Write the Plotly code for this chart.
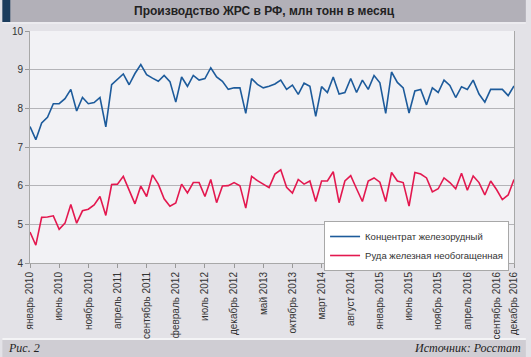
import plotly.graph_objects as go

months = ["январь", "февраль", "март", "апрель", "май", "июнь", "июль",
          "август", "сентябрь", "октябрь", "ноябрь", "декабрь"]
years = [2010, 2011, 2012, 2013, 2014, 2015, 2016]

concentrate = [
    7.53, 7.19, 7.62, 7.77, 8.12, 8.12, 8.25, 8.49, 7.93, 8.28, 8.12, 8.15,
    8.28, 7.52, 8.61, 8.74, 8.89, 8.61, 8.90, 9.13, 8.87, 8.78, 8.70, 8.85,
    8.69, 8.16, 8.81, 8.57, 8.85, 8.73, 8.77, 9.05, 8.81, 8.70, 8.49, 8.53,
    8.53, 7.87, 8.77, 8.62, 8.53, 8.57, 8.63, 8.73, 8.49, 8.60, 8.36, 8.65,
    8.57, 7.79, 8.56, 8.41, 8.81, 8.37, 8.41, 8.77, 8.41, 8.73, 8.49, 8.85,
    8.66, 7.87, 8.94, 8.67, 8.53, 7.88, 8.45, 8.49, 8.09, 8.53, 8.41, 8.73,
    8.59, 8.28, 8.56, 8.49, 8.73, 8.37, 8.16, 8.49, 8.49, 8.49, 8.33, 8.58,
]
ore = [
    4.80, 4.46, 5.18, 5.19, 5.22, 4.87, 5.03, 5.51, 5.03, 5.35, 5.39, 5.50,
    5.72, 5.23, 6.03, 6.04, 6.24, 5.87, 5.53, 5.99, 5.72, 6.28, 6.04, 5.66,
    5.47, 5.55, 6.04, 5.81, 6.08, 6.08, 5.72, 6.16, 5.56, 5.99, 6.00, 6.08,
    6.00, 5.42, 6.24, 6.13, 6.03, 5.95, 6.30, 6.41, 5.96, 5.81, 6.16, 6.04,
    6.12, 5.59, 6.12, 6.12, 6.36, 5.56, 6.12, 6.26, 5.92, 5.59, 6.12, 6.20,
    6.09, 5.59, 6.34, 6.12, 6.08, 5.47, 6.34, 6.30, 6.20, 5.84, 5.92, 6.20,
    6.08, 5.92, 6.32, 5.88, 6.25, 6.08, 5.76, 6.12, 5.90, 5.64, 5.76, 6.16,
]

labels = [f"{m} {y}" for y in years for m in months]
x = list(range(len(labels)))
tick_idx = list(range(0, len(labels), 5)) + [len(labels) - 1]
tick_text = [labels[i] for i in tick_idx]

W, H = 531, 357
L, R, T, B = 28, 12, 31, 94
pw, ph = W - L - R, H - T - B


def px(xp):
    return (xp - L) / pw


def py(yp):
    return (H - B - yp) / ph


fig = go.Figure()
fig.add_trace(go.Scatter(x=x, y=concentrate, mode="lines", name="Концентрат железорудный",
                         line=dict(color="#1d5b9b", width=1.6)))
fig.add_trace(go.Scatter(x=x, y=ore, mode="lines", name="Руда железная необогащенная",
                         line=dict(color="#e3184f", width=1.6)))

shapes = [
    dict(type="rect", xref="paper", yref="paper", x0=px(0), x1=px(W), y0=py(0), y1=py(22),
         fillcolor="#b2b0b8", line_width=0, layer="below"),
    dict(type="rect", xref="paper", yref="paper", x0=px(0), x1=px(8), y0=py(0), y1=py(22),
         fillcolor="#1c3d5e", line_width=0, layer="below"),
    dict(type="rect", xref="paper", yref="paper", x0=px(0), x1=px(W), y0=py(22), y1=py(24),
         fillcolor="#ecebef", line_width=0, layer="below"),
    dict(type="rect", xref="paper", yref="paper", x0=px(0), x1=px(W), y0=py(338), y1=py(340),
         fillcolor="#f4f4f6", line_width=0, layer="below"),
    dict(type="rect", xref="paper", yref="paper", x0=px(0), x1=px(W), y0=py(340), y1=py(H),
         fillcolor="#cfcdd3", line_width=0, layer="below"),
]

annotations = [
    dict(text="<b>Производство ЖРС в РФ, млн тонн в месяц</b>", xref="paper", yref="paper",
         x=px(266), y=py(11.5), xanchor="center", yanchor="middle", showarrow=False,
         font=dict(family="Liberation Sans, Arial", size=12, color="#222222")),
    dict(text="<i>Рис. 2</i>", xref="paper", yref="paper", x=px(4), y=py(348.5),
         xanchor="left", yanchor="middle", showarrow=False,
         font=dict(family="Liberation Serif, Times New Roman", size=12, color="#222222")),
    dict(text="<i>Источник: Росстат</i>", xref="paper", yref="paper", x=px(528), y=py(348.5),
         xanchor="right", yanchor="middle", showarrow=False,
         font=dict(family="Liberation Serif, Times New Roman", size=12, color="#222222")),
]

fig.update_layout(
    width=W, height=H,
    margin=dict(l=L, r=R, t=T, b=B, pad=0),
    paper_bgcolor="#e3e2e7",
    plot_bgcolor="#f2f2f5",
    font=dict(family="Liberation Sans, Arial", size=10, color="#333333"),
    shapes=shapes,
    annotations=annotations,
    showlegend=True,
    legend=dict(x=px(514), y=py(221), xanchor="right", yanchor="top",
                bgcolor="#ffffff", bordercolor="#a8a8a8", borderwidth=1,
                font=dict(size=9.5, color="#333333"), tracegroupgap=0,
                itemwidth=30),
    xaxis=dict(range=[0, len(labels) - 1], tickmode="array", tickvals=tick_idx,
               ticktext=tick_text, tickangle=-90, ticks="outside", ticklen=4,
               tickcolor="#999999", showgrid=False, showline=True, linecolor="#a8a8a8",
               linewidth=1, zeroline=False, tickfont=dict(size=10, color="#333333")),
    yaxis=dict(range=[4, 10], tickmode="array", tickvals=[4, 5, 6, 7, 8, 9, 10],
               ticks="outside", ticklen=4, tickcolor="#999999", showgrid=True,
               gridcolor="#b4b4b8", gridwidth=1, showline=True, mirror=True,
               linecolor="#a8a8a8", linewidth=1, zeroline=False,
               tickfont=dict(size=10, color="#333333")),
)

fig.write_html(
    "out.html",
    config={"displayModeBar": False},
    post_script="document.body.style.margin='0';document.body.style.overflow='hidden';",
)
